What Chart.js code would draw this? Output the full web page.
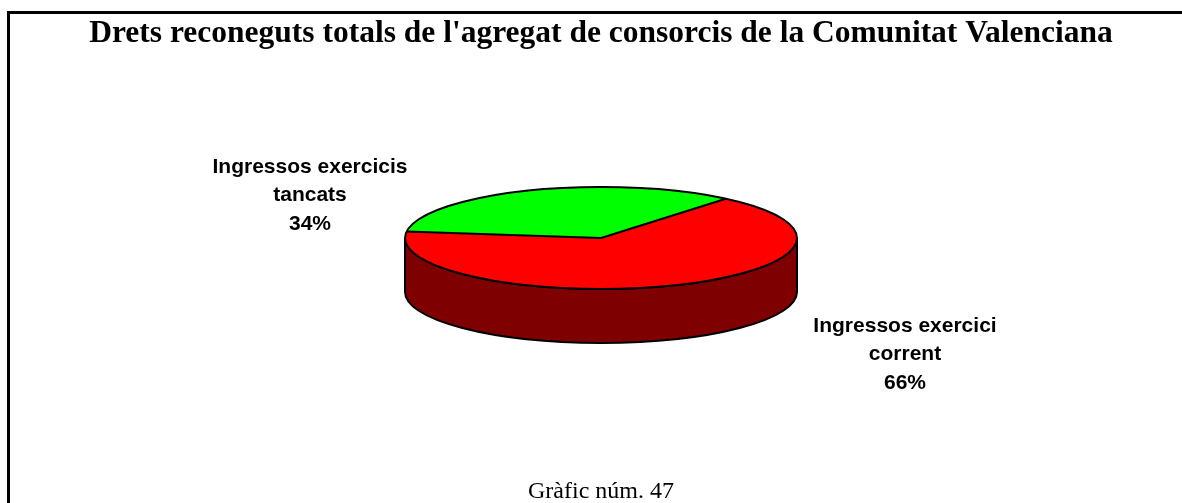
<!DOCTYPE html>
<html>
<head>
<meta charset="utf-8">
<title>Gràfic núm. 47</title>
<script src="https://cdn.jsdelivr.net/npm/chart.js@4"></script>
<style>
  html, body { margin: 0; padding: 0; background: #fff; overflow: hidden; }
  canvas { display: block; }
</style>
</head>
<body>
<canvas id="pie3d" width="1182" height="503"></canvas>
<script>
const categories = [['Ingressos exercici', 'corrent'], ['Ingressos exercicis', 'tancats']]
const values = [66, 34]
const sliceColors = ['#ff0000', '#00ff00']
const titleText = "Drets reconeguts totals de l'agregat de consorcis de la Comunitat Valenciana"
const captionText = 'Gràfic núm. 47'

const squash = 51 / 196     // flattening of the pie
const depth = 54            // height of the side wall
const sideColor = '#7f0000'
const labelCentres = [[905, 326], [310, 167]]
const labelPitch = 28.5

const ctxPie = document.getElementById('pie3d')

const framePlugin = {
    id: 'frame',
    beforeDraw(chart) {
        const c = chart.ctx
        c.fillStyle = '#000'
        c.fillRect(7, 11, chart.width - 7, 3)
        c.fillRect(7, 11, 3, chart.height - 11)
    }
}

const pie3dPlugin = {
    id: 'pie3d',
    beforeDatasetsDraw(chart) {
        const c = chart.ctx
        const arc = chart.getDatasetMeta(0).data[0]
        const rx = arc.outerRadius
        const ry = rx * squash
        // side wall
        c.save()
        c.beginPath()
        c.ellipse(arc.x, arc.y + depth, rx, ry, 0, 0, Math.PI)
        c.lineTo(arc.x - rx, arc.y)
        c.ellipse(arc.x, arc.y, rx, ry, 0, Math.PI, 0, true)
        c.closePath()
        c.fillStyle = sideColor
        c.fill()
        c.lineWidth = 2
        c.strokeStyle = '#000'
        c.stroke()
        c.restore()
        // top face: the library's own arcs, flattened
        c.save()
        c.translate(0, arc.y)
        c.scale(1, squash)
        c.translate(0, -arc.y)
    },
    afterDatasetsDraw(chart) {
        const c = chart.ctx
        c.restore()
        const arcs = chart.getDatasetMeta(0).data
        const first = arcs[0]
        const rx = first.outerRadius
        const ry = rx * squash
        c.save()
        c.strokeStyle = '#000'
        c.lineWidth = 2
        c.beginPath()
        c.ellipse(first.x, first.y, rx, ry, 0, 0, Math.PI * 2)
        c.stroke()
        arcs.forEach(a => {
            c.beginPath()
            c.moveTo(a.x, a.y)
            c.lineTo(a.x + rx * Math.cos(a.startAngle), a.y + ry * Math.sin(a.startAngle))
            c.stroke()
        })
        // labels
        c.fillStyle = '#000'
        c.font = 'bold 21px "Liberation Sans"'
        c.textAlign = 'center'
        c.textBaseline = 'middle'
        categories.forEach((lines, i) => {
            const pos = labelCentres[i]
            lines.concat(values[i] + '%').forEach((line, j) => {
                c.fillText(line, pos[0], pos[1] + j * labelPitch)
            })
        })
        c.restore()
    }
}

const myChart = new Chart(ctxPie, {
    type: 'pie',
    data: {
        labels: categories.map(l => l.join(' ')),
        datasets: [{
            data: values,
            backgroundColor: sliceColors,
            borderWidth: 0
        }]
    },
    options: {
        responsive: false,
        animation: false,
        rotation: 39.6,
        layout: { padding: { left: 20, right: 0, top: 0, bottom: 0 } },
        plugins: {
            legend: { display: false },
            tooltip: { enabled: false },
            title: {
                display: true,
                text: titleText,
                color: '#000',
                font: { family: '"Liberation Serif"', size: 31.5, weight: 'bold', lineHeight: '16px' },
                padding: { top: 26, bottom: 0 }
            },
            subtitle: {
                display: true,
                position: 'bottom',
                text: captionText,
                color: '#000',
                font: { family: '"Liberation Serif"', size: 24, weight: 'normal', lineHeight: '23px' },
                padding: { top: 46, bottom: 0 }
            }
        }
    },
    plugins: [framePlugin, pie3dPlugin]
})
</script>
</body>
</html>
